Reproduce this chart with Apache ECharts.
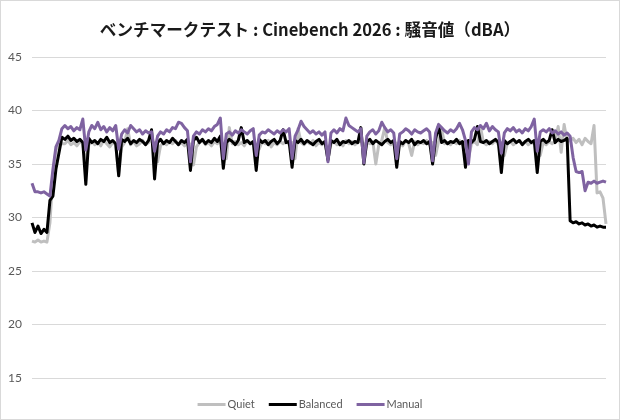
<!DOCTYPE html>
<html>
<head>
<meta charset="utf-8">
<script src="https://cdn.jsdelivr.net/npm/echarts@6/dist/echarts.min.js"></script>
<style>
html,body{margin:0;padding:0;background:#fff;}
#c{width:620px;height:420px;box-sizing:border-box;border:1px solid #d9d9d9;}
</style>
</head>
<body>
<div id="c"></div>
<script>
const titleText = 'ベンチマークテスト : Cinebench 2026 : 騒音値（dBA）';
const seriesNames = ['Quiet', 'Balanced', 'Manual'];
const yTicks = [15, 20, 25, 30, 35, 40, 45];

const quiet = [
27.8,27.7,27.9,27.7,27.8,27.7,29.5,34.0,36.3,36.8,36.9,
36.9,37.2,36.8,37.0,36.7,37.1,36.9,35.0,36.8,37.1,
36.8,37.0,36.7,37.2,36.9,36.6,37.0,36.8,34.0,36.6,
37.0,38.3,36.8,37.1,36.7,36.9,37.2,36.8,37.0,37.3,
36.9,35.2,36.7,37.0,36.8,37.1,36.9,37.2,36.8,37.0,
36.7,37.1,36.8,34.9,36.6,37.0,37.2,36.8,37.0,36.7,
37.1,36.9,37.2,36.8,35.5,38.4,36.9,37.1,36.8,37.0,
36.7,37.2,36.9,37.0,36.8,36.4,37.1,36.9,37.2,36.6,
37.0,36.8,37.1,36.9,37.2,36.8,37.0,35.5,38.3,37.0,
36.8,37.1,36.9,37.2,36.7,37.0,36.8,37.1,35.3,36.9,
37.1,36.8,37.0,36.7,37.2,36.9,37.1,36.8,37.0,37.2,
36.8,37.0,36.9,37.1,35.0,36.8,37.2,38.4,37.0,36.8,
37.1,36.9,37.0,36.7,37.2,36.9,35.8,37.1,36.8,37.0,
36.9,37.2,36.8,37.0,35.8,37.1,38.3,36.9,37.0,36.8,
37.1,36.9,37.2,36.8,37.0,35.5,36.9,37.1,36.8,38.5,
37.0,36.8,37.1,36.9,37.2,36.8,37.0,35.8,36.9,37.1,
36.8,37.0,37.2,36.9,37.1,36.8,37.0,36.9,37.2,35.8,
37.0,36.8,37.1,36.9,37.2,38.5,36.1,38.7,37.1,37.2,
37.4,37.0,37.3,36.8,37.4,37.1,36.9,38.6,32.3,32.4,31.8,29.4
];

const balanced = [
29.5,28.6,29.2,28.5,28.9,28.6,31.6,32.0,34.5,36.0,37.5,
37.3,37.6,37.2,37.4,37.1,37.3,37.0,33.1,37.4,37.0,
37.2,36.9,37.3,37.1,37.5,37.0,37.2,36.9,33.9,37.3,
37.1,37.4,36.9,37.2,37.0,37.3,37.1,36.8,37.2,38.2,
33.6,37.0,37.3,36.9,37.2,37.0,37.4,37.1,36.8,37.2,
37.0,37.3,34.4,37.2,37.5,37.0,37.3,36.9,37.2,37.0,
37.4,37.1,37.6,34.6,37.0,37.3,37.1,36.8,37.2,38.4,
37.0,37.2,36.9,37.1,34.4,37.3,37.0,37.2,36.8,37.1,
37.3,36.9,37.2,38.2,37.0,37.1,34.7,37.2,37.0,37.3,
36.9,37.2,37.0,36.8,37.1,37.3,36.9,37.1,35.4,37.2,
37.0,37.3,36.8,37.1,37.0,37.2,36.9,37.1,37.0,38.4,
35.0,37.1,37.3,36.9,37.2,37.0,36.8,37.1,37.3,37.0,
37.2,34.7,37.1,36.9,37.2,37.0,37.3,36.8,37.1,37.0,
37.2,36.9,37.1,35.0,37.3,38.6,37.0,37.2,36.9,37.1,
37.0,37.3,36.9,37.1,34.7,37.2,37.0,37.3,38.5,37.1,
37.0,37.2,36.9,37.1,37.3,37.0,34.2,37.2,36.9,37.1,
37.3,37.0,37.2,36.8,37.1,37.3,37.0,37.2,34.2,37.1,
37.3,37.0,37.2,38.2,37.0,37.3,37.1,37.2,37.4,29.7,
29.5,29.6,29.4,29.5,29.3,29.4,29.2,29.3,29.1,29.2,29.1,29.1
];

const manual = [
33.2,32.4,32.4,32.3,32.4,32.2,32.0,34.5,36.6,37.2,38.3,
38.6,38.3,38.5,38.1,38.4,38.2,39.2,36.3,38.0,38.6,
38.3,38.9,38.2,38.5,38.0,38.4,38.1,38.6,36.4,37.8,
38.2,37.9,38.6,38.3,38.0,38.2,37.8,38.1,37.9,38.0,
36.2,37.6,38.0,37.8,38.2,38.0,38.4,38.3,38.9,38.8,
38.4,38.1,35.2,37.6,38.0,37.8,38.2,38.0,38.3,38.1,
38.5,38.7,39.3,35.5,37.8,38.0,37.7,38.1,37.9,38.2,
38.0,37.8,38.1,38.3,35.8,37.7,38.0,37.9,38.2,38.0,
37.8,38.1,37.9,38.2,38.0,38.3,35.5,37.6,38.2,39.0,
38.5,38.2,37.9,38.1,37.8,38.0,37.7,38.0,35.2,37.9,
38.2,37.9,38.3,38.1,39.3,38.6,38.4,38.2,38.0,38.3,
35.1,37.6,38.0,38.2,37.8,38.1,38.9,38.4,38.0,38.2,
37.9,35.5,37.8,38.0,38.3,38.1,37.8,38.2,38.0,37.9,
38.1,38.3,38.0,35.3,37.9,38.7,38.4,38.1,37.9,38.2,
38.0,38.3,38.8,38.2,37.2,35.0,38.0,38.4,38.2,38.6,
38.3,38.8,38.1,38.5,38.2,38.0,36.0,37.9,38.3,38.1,
38.4,38.0,38.2,37.9,38.3,38.1,38.5,39.2,36.2,38.0,
38.2,38.0,38.3,37.9,38.1,37.8,38.0,37.7,37.9,37.6,
35.6,34.3,34.2,34.3,32.5,33.3,33.2,33.4,33.2,33.3,33.4,33.3
];

const samples = quiet.map((_, i) => String(i + 1));
const colors = ['#bfbfbf', '#000000', '#7f63a1'];

const chart = echarts.init(document.getElementById('c'), null, {renderer: 'canvas'});
const mk = (name, data, color) => ({
  name, type: 'line', data, showSymbol: false, symbol: 'none',
  lineStyle: {color, width: 3, join: 'round'}, itemStyle: {color},
  animation: false
});
chart.setOption({
  animation: false,
  title: {
    text: titleText, left: 'center', top: 15,
    textStyle: {fontFamily: '"Noto Sans CJK JP", sans-serif', fontWeight: 'bold', fontSize: 16.6, color: '#1a1a1a'}
  },
  legend: {
    data: seriesNames, bottom: 4, left: 'center', icon: 'rect',
    itemWidth: 28, itemHeight: 3, itemGap: 14,
    textStyle: {fontFamily: 'Lato, sans-serif', fontSize: 11, color: '#595959', padding: [0, 0, 0, -3]}
  },
  grid: {left: 31, right: 13, top: 56, bottom: 41},
  xAxis: {
    type: 'category', data: samples, boundaryGap: false,
    axisLine: {show: false}, axisTick: {show: false}, axisLabel: {show: false}, splitLine: {show: false}
  },
  yAxis: {
    type: 'value', min: yTicks[0], max: yTicks[yTicks.length - 1], interval: 5,
    axisLine: {show: false}, axisTick: {show: false},
    axisLabel: {fontFamily: 'Lato, sans-serif', fontSize: 12, color: '#595959', margin: 10},
    splitLine: {lineStyle: {color: '#d9d9d9', width: 1}}
  },
  series: [mk(seriesNames[0], quiet, colors[0]), mk(seriesNames[1], balanced, colors[1]), mk(seriesNames[2], manual, colors[2])]
});
</script>
</body>
</html>
